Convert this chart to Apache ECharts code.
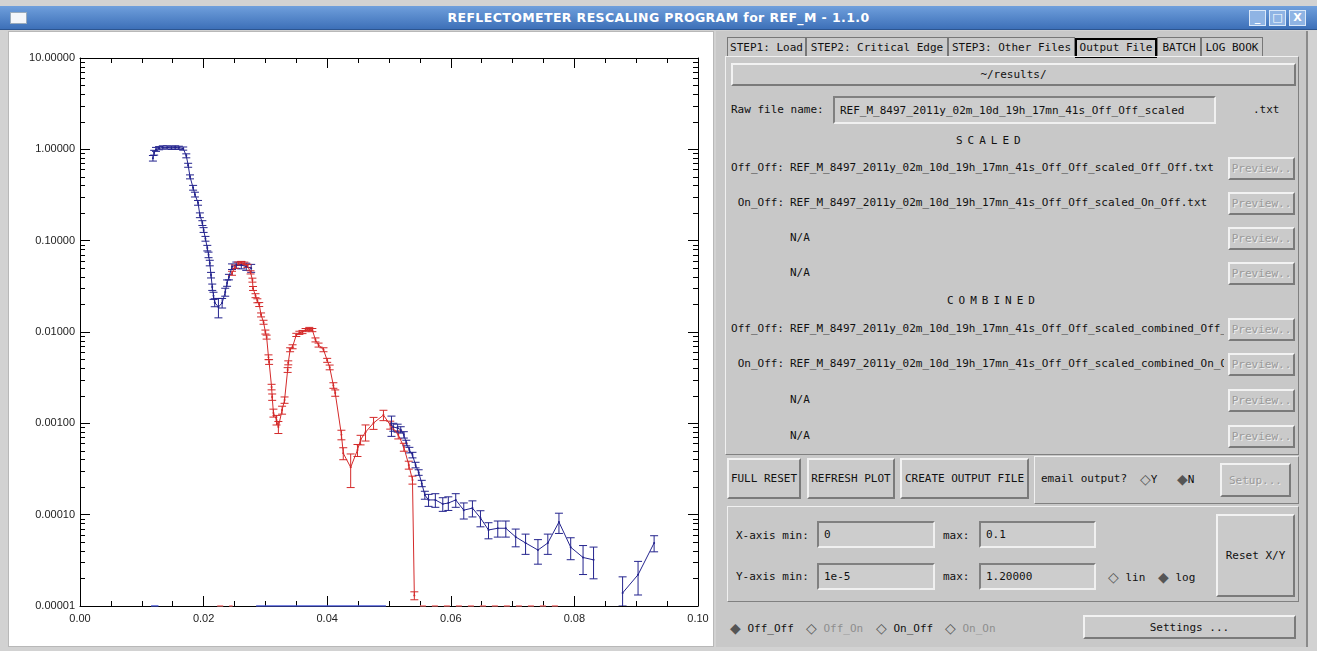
<!DOCTYPE html>
<html>
<head>
<meta charset="utf-8">
<title>REFLECTOMETER RESCALING PROGRAM for REF_M - 1.1.0</title>
<script src="https://cdn.jsdelivr.net/npm/echarts@6/dist/echarts.min.js"></script>
<style>
  html, body { margin: 0; padding: 0; }
  body { width: 1317px; height: 651px; position: relative; overflow: hidden; background: #d2d2d2;
         font-family: "DejaVu Sans Mono", "Liberation Mono", monospace; font-size: 11px; color: #111; }
  .abs { position: absolute; }
  #titlebar { left: 0; top: 6px; width: 1317px; height: 23px;
              background: linear-gradient(#6f9fdc, #3d70b8); border-bottom: 1px solid #2c5590; }
  #title { left: 0; top: 0; width: 1317px; text-align: center; line-height: 23px; color: #fff;
           font-family: "DejaVu Sans", sans-serif; font-weight: bold; font-size: 12.5px; letter-spacing: 0.4px; }
  .wicon { top: 4px; width: 15px; height: 14px; background: #8fb4e4; border: 1px solid #dbe8f8; color: #fff;
           font-family: "DejaVu Sans", sans-serif; font-weight: bold; font-size: 11px; line-height: 14px; text-align: center; }
  #appicon { left: 10px; top: 6px; width: 15px; height: 10px; background: #f4f6fa; border: 1px solid #9ab; }
  #plotpanel { left: 8px; top: 31px; width: 704px; height: 614px; background: #fff; border: 1px solid #b8b8b8; }
  #gui { left: 716px; top: 31px; width: 590px; height: 616px; background: #c8c8c8; border-right: 2px solid #8a8a8a; }
  #chart { left: 0; top: 0; width: 720px; height: 651px; }
  .tab { top: 37px; height: 19px; line-height: 19px; text-align: center; border: 1px solid #777;
         border-bottom: none; background: #cbcbcb; white-space: nowrap; }
  .tab.sel { border: 2px solid #000; height: 16px; line-height: 16px; top: 38px; }
  .frame { border-top: 1px solid #f0f0f0; border-left: 1px solid #f0f0f0; border-right: 1px solid #808080;
           border-bottom: 1px solid #808080; }
  .btn { background: #cacaca; border-top: 2px solid #f2f2f2; border-left: 2px solid #f2f2f2;
         border-right: 2px solid #7a7a7a; border-bottom: 2px solid #7a7a7a; box-sizing: border-box;
         display: flex; align-items: center; justify-content: center; white-space: nowrap; }
  .btn.dim { color: #9a9a9a; text-shadow: 1px 1px 0 #eee; }
  .field { background: #cdcdcd; border-top: 2px solid #808080; border-left: 2px solid #808080;
           border-right: 2px solid #f0f0f0; border-bottom: 2px solid #f0f0f0; box-sizing: border-box;
           padding-left: 5px; display: flex; align-items: center; white-space: nowrap; overflow: hidden; }
  .txt { height: 14px; line-height: 14px; white-space: nowrap; }
  .lbl { width: 60px; text-align: right; }
  .fname { left: 790px; width: 434px; overflow: hidden; }
  .dim { color: #8e8e8e; }
  .spaced { letter-spacing: 5px; }
  .dia { font-family: "DejaVu Sans", sans-serif; font-size: 14px; color: #555; vertical-align: -1px; }
</style>
</head>
<body>
<!-- window title bar -->
<div id="titlebar" class="abs">
  <div id="appicon" class="abs"></div>
  <div id="title" class="abs">REFLECTOMETER RESCALING PROGRAM for REF_M - 1.1.0</div>
  <div class="abs wicon" style="left:1249px">_</div>
  <div class="abs wicon" style="left:1269px">□</div>
  <div class="abs wicon" style="left:1289px">X</div>
</div>

<!-- plot panel and control panel -->
<div id="plotpanel" class="abs"></div>
<div id="gui" class="abs"></div>

<div class="abs tab" style="left:727px;width:77px">STEP1: Load</div>
<div class="abs tab" style="left:806px;width:140px">STEP2: Critical Edge</div>
<div class="abs tab" style="left:948px;width:125px">STEP3: Other Files</div>
<div class="abs tab sel" style="left:1075px;width:78px">Output File</div>
<div class="abs tab" style="left:1157px;width:42px">BATCH</div>
<div class="abs tab" style="left:1201px;width:60px">LOG BOOK</div>

<div class="abs frame" style="left:725px;top:56px;width:572px;height:397px"></div>
<div class="abs btn" style="left:731px;top:63px;width:565px;height:23px">~/results/</div>

<div class="abs txt" style="left:731px;top:103px">Raw file name:</div>
<div class="abs field" style="left:833px;top:96px;width:383px;height:28px">REF_M_8497_2011y_02m_10d_19h_17mn_41s_Off_Off_scaled</div>
<div class="abs txt" style="left:1253px;top:103px">.txt</div>

<div class="abs txt spaced" style="left:956px;top:134px">SCALED</div>
<div class="abs txt lbl" style="left:724px;top:161px">Off_Off:</div>
<div class="abs txt fname" style="top:161px">REF_M_8497_2011y_02m_10d_19h_17mn_41s_Off_Off_scaled_Off_Off.txt</div>
<div class="abs btn dim" style="left:1228px;top:157px;width:67px;height:23px">Preview..</div>
<div class="abs txt lbl" style="left:724px;top:196px">On_Off:</div>
<div class="abs txt fname" style="top:196px">REF_M_8497_2011y_02m_10d_19h_17mn_41s_Off_Off_scaled_On_Off.txt</div>
<div class="abs btn dim" style="left:1228px;top:192px;width:67px;height:23px">Preview..</div>
<div class="abs txt fname" style="top:231px">N/A</div>
<div class="abs btn dim" style="left:1228px;top:227px;width:67px;height:23px">Preview..</div>
<div class="abs txt fname" style="top:266px">N/A</div>
<div class="abs btn dim" style="left:1228px;top:262px;width:67px;height:23px">Preview..</div>

<div class="abs txt spaced" style="left:947px;top:294px">COMBINED</div>
<div class="abs txt lbl" style="left:724px;top:322px">Off_Off:</div>
<div class="abs txt fname" style="top:322px">REF_M_8497_2011y_02m_10d_19h_17mn_41s_Off_Off_scaled_combined_Off_Off.txt</div>
<div class="abs btn dim" style="left:1228px;top:318px;width:67px;height:23px">Preview..</div>
<div class="abs txt lbl" style="left:724px;top:357px">On_Off:</div>
<div class="abs txt fname" style="top:357px">REF_M_8497_2011y_02m_10d_19h_17mn_41s_Off_Off_scaled_combined_On_Off.txt</div>
<div class="abs btn dim" style="left:1228px;top:353px;width:67px;height:23px">Preview..</div>
<div class="abs txt fname" style="top:393px">N/A</div>
<div class="abs btn dim" style="left:1228px;top:389px;width:67px;height:23px">Preview..</div>
<div class="abs txt fname" style="top:429px">N/A</div>
<div class="abs btn dim" style="left:1228px;top:425px;width:67px;height:23px">Preview..</div>

<div class="abs btn" style="left:727px;top:458px;width:74px;height:41px">FULL RESET</div>
<div class="abs btn" style="left:807px;top:458px;width:88px;height:41px">REFRESH PLOT</div>
<div class="abs btn" style="left:900px;top:458px;width:129px;height:41px">CREATE OUTPUT FILE</div>
<div class="abs frame" style="left:1034px;top:456px;width:263px;height:46px"></div>
<div class="abs txt" style="left:1041px;top:472px">email output?</div>
<div class="abs txt" style="left:1140px;top:472px"><span class="dia">◇</span>Y</div>
<div class="abs txt" style="left:1177px;top:472px"><span class="dia">◆</span>N</div>
<div class="abs btn dim" style="left:1220px;top:463px;width:71px;height:34px">Setup...</div>

<div class="abs frame" style="left:727px;top:506px;width:570px;height:94px"></div>
<div class="abs txt" style="left:736px;top:529px">X-axis min:</div>
<div class="abs field" style="left:817px;top:521px;width:118px;height:27px">0</div>
<div class="abs txt" style="left:943px;top:529px">max:</div>
<div class="abs field" style="left:979px;top:521px;width:117px;height:27px">0.1</div>
<div class="abs txt" style="left:736px;top:570px">Y-axis min:</div>
<div class="abs field" style="left:817px;top:563px;width:118px;height:27px">1e-5</div>
<div class="abs txt" style="left:943px;top:570px">max:</div>
<div class="abs field" style="left:979px;top:563px;width:117px;height:27px">1.20000</div>
<div class="abs txt" style="left:1108px;top:570px"><span class="dia">◇</span> lin</div>
<div class="abs txt" style="left:1158px;top:570px"><span class="dia">◆</span> log</div>
<div class="abs btn" style="left:1216px;top:514px;width:79px;height:83px">Reset X/Y</div>

<div class="abs txt" style="left:730px;top:621px"><span class="dia">◆</span> Off_Off</div>
<div class="abs txt dim" style="left:806px;top:621px"><span class="dia">◇</span> Off_On</div>
<div class="abs txt" style="left:876px;top:621px"><span class="dia">◇</span> On_Off</div>
<div class="abs txt dim" style="left:945px;top:621px"><span class="dia">◇</span> On_On</div>
<div class="abs btn" style="left:1083px;top:615px;width:213px;height:24px">Settings ...</div>

<div id="chart" class="abs"></div>

<script>
// Reflectivity R(Q), three runs after rescaling. Q in 1/Angstrom.
// Relative errors are given as fractions of R.

// run 1 (Off_Off, low Q)
const lowQ = [0.0118, 0.0120, 0.0123, 0.0128, 0.0134, 0.0141, 0.0148, 0.0154, 0.0160, 0.0167,
              0.0172, 0.0175, 0.0178, 0.0183, 0.0186, 0.0191, 0.0194, 0.0198, 0.0200, 0.0203,
              0.0206, 0.0208, 0.0210, 0.0212, 0.0214, 0.0216, 0.0218, 0.0224, 0.0230, 0.0235,
              0.0238, 0.0241, 0.0246, 0.0253, 0.0261, 0.0269, 0.0277];
const lowR = [0.80, 0.92, 1.00, 1.03, 1.05, 1.05, 1.04, 1.05, 1.04, 1.02,
              0.85, 0.67, 0.50, 0.38, 0.32, 0.26, 0.19, 0.156, 0.131, 0.105,
              0.083, 0.070, 0.057, 0.042, 0.031, 0.025, 0.021, 0.0188, 0.0208, 0.0274,
              0.0344, 0.040, 0.052, 0.054, 0.054, 0.052, 0.050];
const lowErr = [0.07, 0.06, 0.05, 0.04, 0.04, 0.04, 0.04, 0.04, 0.04, 0.04,
                0.05, 0.05, 0.05, 0.06, 0.06, 0.06, 0.06, 0.06, 0.06, 0.06,
                0.07, 0.07, 0.07, 0.07, 0.08, 0.09, 0.10, 0.24, 0.12, 0.10,
                0.08, 0.07, 0.07, 0.08, 0.09, 0.09, 0.10];

// run 2 (middle Q)
const midQ = [0.0246, 0.0251, 0.0256, 0.0261, 0.0266, 0.0271, 0.0276, 0.0279, 0.0280, 0.0284,
              0.0287, 0.0290, 0.0293, 0.0297, 0.0300, 0.0302, 0.0305, 0.0306, 0.0310, 0.0311,
              0.0313, 0.0318, 0.0321, 0.0327, 0.0331, 0.0336, 0.0337, 0.0340, 0.0344, 0.0350,
              0.0355, 0.0360, 0.0365, 0.0371, 0.0376, 0.0381, 0.0386, 0.0394, 0.0400, 0.0404,
              0.0410, 0.0413, 0.0423, 0.0426, 0.0438, 0.0449, 0.0454, 0.0462, 0.0475, 0.0491,
              0.0502, 0.0515, 0.0524, 0.0532, 0.0538, 0.0541];
const midR = [0.044, 0.052, 0.056, 0.057, 0.056, 0.053, 0.045, 0.037, 0.030, 0.025,
              0.022, 0.020, 0.0154, 0.0128, 0.0100, 0.0088, 0.0053, 0.0047, 0.0025, 0.00194,
              0.0013, 0.00109, 0.00091, 0.0014, 0.0018, 0.00384, 0.0046, 0.0064, 0.0069, 0.0093,
              0.0098, 0.0100, 0.0105, 0.0108, 0.0105, 0.0082, 0.0072, 0.0064, 0.0049, 0.0041,
              0.0026, 0.00215, 0.00075, 0.00047, 0.00033, 0.00051, 0.00066, 0.00080, 0.00101, 0.00123,
              0.00096, 0.00075, 0.00055, 0.00035, 0.00024, 0.000013];
const midErr = [0.05, 0.04, 0.04, 0.04, 0.04, 0.04, 0.04, 0.05, 0.05, 0.05,
                0.05, 0.05, 0.05, 0.05, 0.05, 0.05, 0.06, 0.06, 0.07, 0.08,
                0.10, 0.12, 0.15, 0.10, 0.08, 0.06, 0.05, 0.05, 0.05, 0.04,
                0.04, 0.04, 0.04, 0.04, 0.04, 0.05, 0.05, 0.05, 0.05, 0.06,
                0.07, 0.08, 0.12, 0.15, 0.40, 0.15, 0.12, 0.20, 0.15, 0.13,
                0.10, 0.10, 0.10, 0.10, 0.10, 0.10];

// run 3 (Off_Off, high Q); null marks a point with no positive reflectivity
const highQ = [0.0504, 0.0507, 0.0514, 0.0519, 0.0524, 0.0528, 0.0533, 0.0538, 0.0543, 0.0548,
               0.0553, 0.0558, 0.0564, 0.0575, 0.0587, 0.0596, 0.0608, 0.0621, 0.0635, 0.0648,
               0.0661, 0.0676, 0.0689, 0.0705, 0.0721, 0.0741, 0.0757, 0.0775, 0.0794, 0.0814,
               0.0831, 0.0854, 0.0878, 0.0903, 0.0929];
const highR = [0.00096, 0.00091, 0.00089, 0.00085, 0.00075, 0.00061, 0.00051, 0.00045, 0.00035, 0.00029,
               0.00022, 0.000164, 0.000145, 0.000145, 0.000131, 0.000134, 0.000145, 0.000112, 0.000118, 0.000092,
               0.000068, 0.000071, 0.000071, 0.000057, 0.000049, 0.000041, 0.000049, 0.000083, 0.000044, 0.000034,
               0.000032, null, 0.0000139, 0.000022, 0.000049];
const highErr = [0.25, 0.10, 0.10, 0.08, 0.08, 0.07, 0.07, 0.07, 0.07, 0.07,
                 0.08, 0.10, 0.15, 0.17, 0.17, 0.17, 0.17, 0.20, 0.20, 0.20,
                 0.20, 0.20, 0.20, 0.22, 0.25, 0.30, 0.25, 0.25, 0.27, 0.35,
                 0.38, null, 0.50, 0.40, 0.20];

// zero-valued stretches of the other spin state, sitting on the lower axis
const floorBlueQ = [0.0115, 0.0127, null, 0.0285, 0.0495];
const floorRedQ = [0.0222, 0.0247, null, 0.0550, 0.0780];

// axis settings
const xMin = 0, xMax = 0.10, xStep = 0.02;
const yMin = 1e-5, yMax = 10;

const BLUE = '#24248e';
const RED = '#d42a2a';

function linePoints(qs, rs) {
  return qs.map((q, i) => (rs[i] == null ? [q, '-'] : [q, rs[i]]));
}
function barPoints(qs, rs, es) {
  const out = [];
  qs.forEach((q, i) => {
    if (rs[i] == null) return;
    const lo = Math.max(rs[i] * (1 - es[i]), yMin);
    const hi = rs[i] * (1 + es[i]);
    out.push([q, lo, hi]);
  });
  return out;
}
function floorPoints(qs) {
  return qs.map(q => (q == null ? ['-', '-'] : [q, yMin]));
}

function errorBar(params, api) {
  const q = api.value(0);
  const a = api.coord([q, api.value(2)]);
  const b = api.coord([q, api.value(1)]);
  const hw = 4;
  const style = { stroke: api.visual('color'), lineWidth: 1 };
  return {
    type: 'group',
    children: [
      { type: 'line', shape: { x1: a[0], y1: a[1], x2: b[0], y2: b[1] }, style },
      { type: 'line', shape: { x1: a[0] - hw, y1: a[1], x2: a[0] + hw, y2: a[1] }, style },
      { type: 'line', shape: { x1: b[0] - hw, y1: b[1], x2: b[0] + hw, y2: b[1] }, style }
    ]
  };
}

const axisFont = { fontFamily: 'Liberation Sans, Arial, sans-serif', fontSize: 11, color: '#222' };

function xAxisDef(pos, labels) {
  return {
    type: 'value', position: pos, min: xMin, max: xMax, interval: xStep,
    axisLine: { show: true, onZero: false, lineStyle: { color: '#000', width: 1 } },
    axisTick: { show: true, inside: true, length: 10, lineStyle: { color: '#000' } },
    minorTick: { show: true, splitNumber: 4, length: 5, lineStyle: { color: '#000' } },
    axisLabel: Object.assign({ show: labels, margin: 7, formatter: v => v.toFixed(2) }, axisFont),
    splitLine: { show: false }
  };
}
function yAxisDef(pos, labels) {
  return {
    type: 'log', logBase: 10, position: pos, min: yMin, max: yMax,
    axisLine: { show: true, onZero: false, lineStyle: { color: '#000', width: 1 } },
    axisTick: { show: true, inside: true, length: 10, lineStyle: { color: '#000' } },
    minorTick: { show: true, splitNumber: 9, length: 5, lineStyle: { color: '#000' } },
    axisLabel: Object.assign({ show: labels, margin: 5, formatter: v => v.toFixed(5) }, axisFont),
    splitLine: { show: false }
  };
}

function runSeries(name, qs, rs, es, color) {
  return [
    {
      name, type: 'line', data: linePoints(qs, rs), connectNulls: false,
      showSymbol: true, symbol: 'circle', symbolSize: 2,
      itemStyle: { color }, lineStyle: { color, width: 1 }, animation: false
    },
    {
      name, type: 'custom', renderItem: errorBar, data: barPoints(qs, rs, es),
      encode: { x: 0, y: [1, 2] }, itemStyle: { color }, animation: false, clip: true
    }
  ];
}

const chart = echarts.init(document.getElementById('chart'), null, { renderer: 'canvas' });
chart.setOption({
  backgroundColor: 'transparent',
  animation: false,
  grid: { left: 80, top: 58, width: 618, height: 548 },
  xAxis: [xAxisDef('bottom', true), xAxisDef('top', false)],
  yAxis: [yAxisDef('left', true), yAxisDef('right', false)],
  series: [
    {
      type: 'line', data: floorPoints(floorBlueQ), showSymbol: false,
      lineStyle: { color: '#4a5ad8', width: 1.5 }, animation: false
    },
    {
      type: 'line', data: floorPoints(floorRedQ), showSymbol: false,
      lineStyle: { color: '#f07070', width: 1.5, type: [6, 6] }, animation: false
    },
    ...runSeries('Off_Off low Q', lowQ, lowR, lowErr, BLUE),
    ...runSeries('On_Off', midQ, midR, midErr, RED),
    ...runSeries('Off_Off high Q', highQ, highR, highErr, BLUE)
  ]
});
</script>
</body>
</html>
